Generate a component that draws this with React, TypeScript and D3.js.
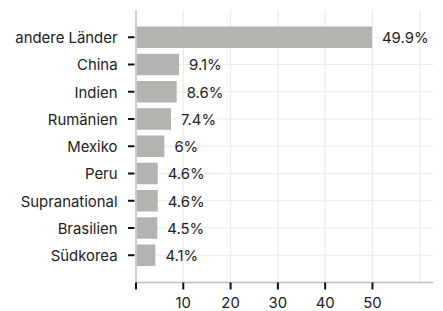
import React from "react";
import * as d3 from "d3";

const categories = ["andere Länder", "China", "Indien", "Rumänien", "Mexiko", "Peru", "Supranational", "Brasilien", "Südkorea"];
const values = [49.9, 9.1, 8.6, 7.4, 6, 4.6, 4.6, 4.5, 4.1];
const xTicks = [0, 10, 20, 30, 40, 50];
const gridTicks = [10, 20, 30, 40, 50, 60];

export default function App() {
  const W = 443, H = 311;
  const left = 136, right = 433, top = 10, bottom = 282.5;
  const x = d3.scaleLinear().domain([0, 62.8]).range([left, right]);
  const y = d3.scalePoint<string>().domain(categories).range([top, bottom]).padding(1);
  const step = y.step();
  const bh = step * 0.79;
  const font = "Inter, 'Noto Sans', sans-serif";
  const fs = 14.9;
  return (
    <svg width={W} height={H} style={{ position: "absolute", left: 0, top: 0 }}>
      <rect width={W} height={H} fill="#fff" />
      {gridTicks.map((t) => (
        <line key={"gx" + t} x1={x(t)} x2={x(t)} y1={top} y2={bottom} stroke="#ebebeb" strokeWidth={1.2} />
      ))}
      {categories.map((c) => (
        <line key={"gy" + c} x1={left} x2={right} y1={y(c)!} y2={y(c)!} stroke="#ebebeb" strokeWidth={1.2} />
      ))}
      {categories.map((c, i) => (
        <rect key={"b" + c} x={x(0) + 1} y={y(c)! - bh / 2} width={x(values[i]) - x(0) - 1} height={bh} fill="#b4b3af" />
      ))}
      <line x1={left} x2={left} y1={top} y2={bottom} stroke="#bdbdbd" strokeWidth={1.5} />
      <line x1={left} x2={right} y1={bottom} y2={bottom} stroke="#bdbdbd" strokeWidth={1.5} />
      {categories.map((c) => (
        <g key={"l" + c}>
          <line x1={128} x2={134.5} y1={y(c)!} y2={y(c)!} stroke="#111" strokeWidth={2} />
          <text x={117.5} y={y(c)!} dy="0.4em" textAnchor="end" fontFamily={font} fontSize={fs} fill="#222">{c}</text>
        </g>
      ))}
      {categories.map((c, i) => (
        <text key={"v" + c} x={x(values[i]) + 10} y={y(c)!} dy="0.4em" fontFamily={font} fontSize={fs} fill="#222">
          {values[i] + "%"}
        </text>
      ))}
      {xTicks.map((t) => (
        <g key={"xt" + t}>
          <line x1={x(t)} x2={x(t)} y1={bottom} y2={bottom + 7} stroke="#111" strokeWidth={2} />
          {t !== 0 && (
            <text x={x(t)} y={307.5} textAnchor="middle" fontFamily={font} fontSize={fs} fill="#222">{t}</text>
          )}
        </g>
      ))}
    </svg>
  );
}
